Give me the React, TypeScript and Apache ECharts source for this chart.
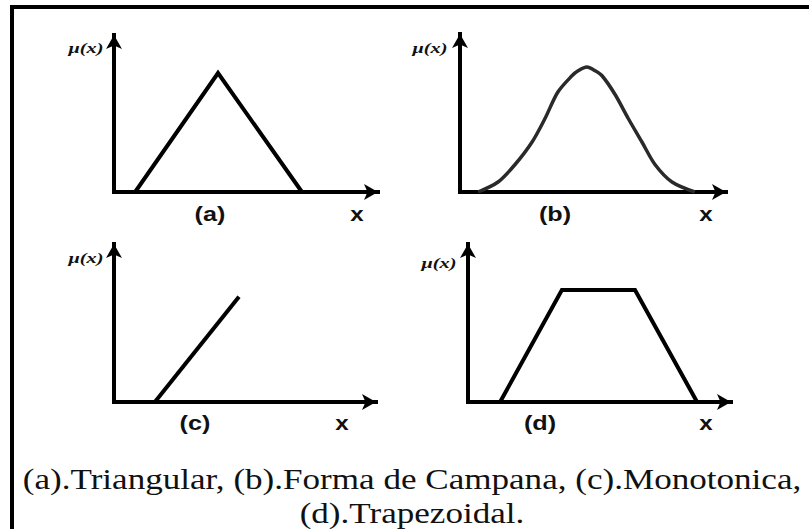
import React, { useEffect, useRef } from "react";
import * as echarts from "echarts";

// Membership functions, x in axis units (0–10), μ(x) in 0–1
const triangularX = [0.8, 3.94, 7.12];
const triangularY = [0, 1, 0];

const bellX = [0.68, 1.43, 2.07, 2.71, 3.2, 3.68, 4.21, 4.44, 4.77, 5.08, 5.34, 5.83, 6.32, 6.84, 7.33, 7.97, 8.83];
const bellY = [0, 0.08, 0.22, 0.4, 0.59, 0.8, 0.93, 0.97, 1.0, 0.97, 0.93, 0.78, 0.59, 0.4, 0.22, 0.08, 0];

const monotonicX = [1.56, 4.77];
const monotonicY = [0, 1];

const trapezoidX = [1.22, 3.57, 6.35, 8.71];
const trapezoidY = [0, 1, 1, 0];

const panelTags = ["(a)", "(b)", "(c)", "(d)"];
const axisName = "x";
const yName = "μ(x)";
const captionLines = [
  "(a).Triangular, (b).Forma de Campana, (c).Monotonica,",
  "(d).Trapezoidal.",
];

const zip = (xs: number[], ys: number[]) => xs.map((x, i) => [x, ys[i]]);

// Panel frames (pixels) and label anchors
const panels = [
  { left: 114, top: 35, width: 264, height: 157, yMax: 1.32, tag: [210, 214], xl: [357, 214], mu: [86, 48] },
  { left: 460, top: 34, width: 266, height: 158, yMax: 1.264, tag: [555, 214], xl: [706, 214], mu: [430, 48] },
  { left: 114, top: 244, width: 262, height: 158, yMax: 1.5, tag: [195, 423], xl: [342, 423], mu: [86, 258] },
  { left: 468, top: 244, width: 263, height: 158, yMax: 1.41, tag: [540, 423], xl: [706, 423], mu: [439, 263] },
];

const seriesData = [
  { data: zip(triangularX, triangularY), smooth: false as boolean | number, color: "#000", width: 4 },
  { data: zip(bellX, bellY), smooth: 0.3, color: "#2a2a2a", width: 3.5 },
  { data: zip(monotonicX, monotonicY), smooth: false, color: "#000", width: 4 },
  { data: zip(trapezoidX, trapezoidY), smooth: false, color: "#000", width: 4 },
];

const SANS = "Liberation Sans";
const SERIF = "Liberation Serif";

export default function App() {
  const ref = useRef<HTMLDivElement>(null);

  useEffect(() => {
    if (!ref.current) return;
    const chart = echarts.init(ref.current, null, { renderer: "svg" });

    const axisLine = {
      show: true,
      onZero: false,
      symbol: ["none", "arrow"],
      symbolSize: [12, 14],
      lineStyle: { color: "#000", width: 4, cap: "square" },
    };
    const hidden = {
      axisTick: { show: false },
      axisLabel: { show: false },
      splitLine: { show: false },
    };

    const texts: any[] = [];
    panels.forEach((p, i) => {
      texts.push({
        type: "text",
        x: p.tag[0],
        y: p.tag[1],
        scaleX: 1.2,
        style: {
          text: panelTags[i],
          fontFamily: SANS,
          fontWeight: "bold",
          fontSize: 21,
          fill: "#111",
          align: "center",
          verticalAlign: "middle",
        },
      });
      texts.push({
        type: "text",
        x: p.xl[0],
        y: p.xl[1],
        scaleX: 1.15,
        style: {
          text: axisName,
          fontFamily: SANS,
          fontWeight: "bold",
          fontSize: 21,
          fill: "#111",
          align: "center",
          verticalAlign: "middle",
        },
      });
      texts.push({
        type: "text",
        x: p.mu[0],
        y: p.mu[1],
        scaleX: 1.45,
        style: {
          text: yName,
          fontFamily: SERIF,
          fontStyle: "italic",
          fontWeight: "bold",
          fontSize: 14,
          fill: "#111",
          align: "center",
          verticalAlign: "middle",
        },
      });
    });

    captionLines.forEach((line, i) => {
      texts.push({
        type: "text",
        x: 412,
        y: i === 0 ? 479 : 513,
        scaleX: 1.17,
        style: {
          text: line,
          fontFamily: SERIF,
          fontSize: 30,
          fill: "#111",
          align: "center",
          verticalAlign: "middle",
        },
      });
    });

    chart.setOption({
      animation: false,
      backgroundColor: "#fff",
      grid: panels.map((p) => ({ left: p.left, top: p.top, width: p.width, height: p.height })),
      xAxis: panels.map((p, i) => ({
        type: "value",
        gridIndex: i,
        min: 0,
        max: 10,
        axisLine,
        ...hidden,
      })),
      yAxis: panels.map((p, i) => ({
        type: "value",
        gridIndex: i,
        min: 0,
        max: p.yMax,
        axisLine,
        ...hidden,
      })),
      series: seriesData.map((s, i) => ({
        type: "line",
        xAxisIndex: i,
        yAxisIndex: i,
        data: s.data,
        smooth: s.smooth,
        showSymbol: false,
        symbol: "none",
        lineStyle: { color: s.color, width: s.width, join: "miter" },
        z: 1,
      })),
      graphic: [
        {
          type: "polyline",
          shape: { points: [[12, 529], [12, 7], [809, 7]] },
          style: { stroke: "#000", lineWidth: 4, fill: "none" },
        },
        ...texts,
      ],
    });

    return () => chart.dispose();
  }, []);

  return (
    <div
      ref={ref}
      style={{ position: "absolute", left: 0, top: 0, width: 809, height: 529 }}
    />
  );
}
